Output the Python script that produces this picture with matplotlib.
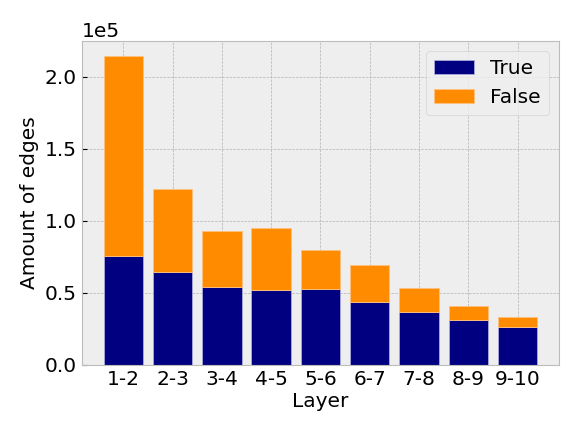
import numpy as np
import matplotlib
matplotlib.use('Agg')
import matplotlib.pyplot as plt

layers = ['1-2', '2-3', '3-4', '4-5', '5-6', '6-7', '7-8', '8-9', '9-10']
true_edges = [75300, 64200, 53900, 52100, 52800, 44000, 36500, 31500, 26200]
total_edges = [214100, 121900, 93100, 94700, 79700, 69600, 53500, 41000, 33600]
false_edges = [t - c for t, c in zip(total_edges, true_edges)]

plt.style.use('bmh')
fs = 14.5
plt.rcParams['font.size'] = fs

fig = plt.figure(figsize=(5.81, 4.36), dpi=100)
ax = fig.add_subplot(111)
fig.subplots_adjust(left=0.141, right=0.962, top=0.906, bottom=0.163)

x = np.arange(len(layers))
ax.bar(x, true_edges, color='navy', label='True', edgecolor='#aaaadd', linewidth=0.6)
ax.bar(x, false_edges, bottom=true_edges, color='darkorange', label='False',
       edgecolor='#ffc080', linewidth=0.6)

ax.set_xticks(x)
ax.set_xticklabels(layers)
ax.set_xlabel('Layer', fontsize=fs, labelpad=2)
ax.set_ylabel('Amount of edges', fontsize=fs)
ax.ticklabel_format(axis='y', style='sci', scilimits=(0, 0))
ax.yaxis.get_offset_text().set_fontsize(fs)
ax.tick_params(direction='in', labelsize=fs, colors='black')
ax.grid(True, linestyle='--', linewidth=0.5, color='#b2b2b2')
ax.set_axisbelow(True)
ax.legend(loc='upper right', fontsize=fs)

fig.savefig('out.png', dpi=100)
